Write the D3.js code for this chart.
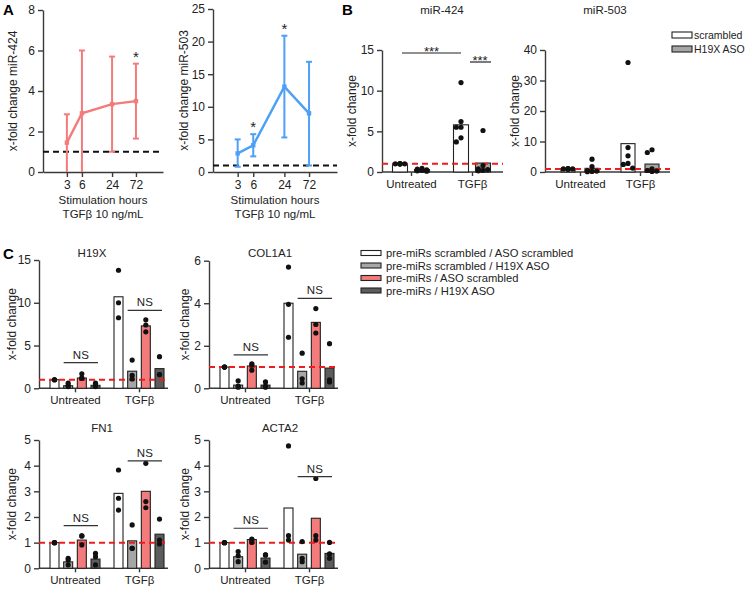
<!DOCTYPE html>
<html><head><meta charset="utf-8">
<script src="https://cdn.jsdelivr.net/npm/d3@7"></script>
<style>body{margin:0;background:#fff}svg{font-family:"Liberation Sans",Arial,sans-serif}</style>
</head><body><svg id="c" width="748" height="589"></svg>
<script>
// ---------- DATA ----------
const hours = [3, 6, 24, 72];
const miR424Mean = [1.45, 2.9, 3.35, 3.5];
const miR424Low  = [0, 0, 1.0, 1.65];
const miR424High = [2.85, 6.0, 5.7, 5.35];
const miR424Stars = [72];
const miR503Mean = [2.85, 4.1, 13.1, 9.0];
const miR503Low  = [0.8, 2.4, 5.3, 1.0];
const miR503High = [5.0, 5.8, 20.9, 16.9];
const miR503Stars = [6, 24];

const groups = ["Untreated", "TGFβ"];
const bSeries = ["scrambled", "H19X ASO"];
const b424Bars = [[1.0, 0.3], [5.8, 1.1]];
const b424Dots = [[[1, 1, 1, 1, 1, 1], [0.45, 0.35, 0.25, 0.2, 0.15, 0.1]],
                  [[11.0, 6.2, 5.5, 5.5, 4.2, 3.7], [5.1, 0.8, 0.4, 0.3, 0.2, 0.15]]];
const b503Bars = [[1.0, 1.2], [9.3, 2.6]];
const b503Dots = [[[1, 1, 1, 1, 1, 1], [4.2, 1.8, 0.5, 0.3, 0.2, 0.1]],
                  [[35.9, 8.0, 5.3, 2.8, 2.5, 1.3], [7.3, 6.4, 1.0, 0.5, 0.3, 0.2]]];

const cSeries = ["pre-miRs scrambled / ASO scrambled", "pre-miRs scrambled / H19X ASO",
                 "pre-miRs / ASO scrambled", "pre-miRs / H19X ASO"];
const h19xBars = [[1.0, 0.3, 1.2, 0.35], [10.7, 2.0, 7.3, 2.3]];
const h19xDots = [[[1, 1, 1], [0.6, 0.28, 0.2], [1.7, 1.18, 1.18], [0.6, 0.28, 0.2]],
                  [[13.8, 10.0, 8.25], [3.3, 1.5, 1.1], [8.0, 7.4, 6.6], [3.7, 1.6, 1.6]]];
const h19xNS = [3.0, 9.1];
const col1a1Bars = [[1.0, 0.15, 1.05, 0.15], [4.0, 0.8, 3.1, 0.95]];
const col1a1Dots = [[[1, 1, 1], [0.35, 0.1, 0.05], [1.15, 1.1, 0.85], [0.3, 0.1, 0.05]],
                    [[5.7, 3.95, 2.4], [1.65, 0.45, 0.25], [3.75, 3.0, 2.6], [2.1, 0.4, 0.3]]];
const col1a1NS = [1.57, 4.23];
const fn1Bars = [[1.0, 0.25, 1.1, 0.36], [2.92, 1.07, 3.0, 1.33]];
const fn1Dots = [[[1, 1, 1], [0.39, 0.32, 0.13], [1.26, 1.26, 0.91], [0.58, 0.45, 0.13]],
                 [[3.83, 2.73, 2.27], [1.69, 0.78, 0.78], [4.09, 2.6, 2.36], [1.92, 1.1, 0.95]]];
const fn1NS = [1.66, 4.19];
const acta2Bars = [[1.0, 0.45, 1.12, 0.4], [2.35, 0.55, 1.95, 0.58]];
const acta2Dots = [[[1, 1, 1], [0.65, 0.49, 0.26], [1.14, 1.1, 1.01], [0.52, 0.52, 0.24]],
                   [[4.77, 1.27, 1.1], [1.04, 0.39, 0.26], [3.5, 1.27, 1.1], [1.01, 0.56, 0.39]]];
const acta2NS = [1.56, 3.57];

const bColors = ["#ffffff", "#a6a6a6"];
const cColors = ["#ffffff", "#a6a6a6", "#f47b7b", "#5c5c5c"];

// ---------- DRAW ----------
const svg = d3.select("#c");
const AX = "#3a3a3a";
const FONT = "Liberation Sans, Arial, sans-serif";
const fmt = d3.format("d");

function styleAxis(g, fs) {
  g.attr("font-family", FONT).attr("font-size", fs);
  g.selectAll(".domain").attr("stroke", AX).attr("stroke-width", 1.4);
  g.selectAll(".tick line").attr("stroke", AX).attr("stroke-width", 1.4);
  g.selectAll("text").attr("fill", "#222");
}
function txt(x, y, s, o = {}) {
  return svg.append("text").attr("x", x).attr("y", y).text(s)
    .attr("font-size", o.fs || 11).attr("font-family", FONT)
    .attr("text-anchor", o.anchor || "middle").attr("fill", o.fill || "#222")
    .attr("font-weight", o.bold ? "bold" : null);
}
function vlabel(cx, cy, s, fs) {
  svg.append("text").attr("transform", `translate(${cx},${cy}) rotate(-90)`)
    .attr("text-anchor", "middle").attr("dy", "0.35em").attr("font-size", fs)
    .attr("font-family", FONT).attr("fill", "#222").text(s);
}

function drawTime(c) {
  const x = d3.scaleLog().domain([1, 250]).range([c.x0, c.x1]);
  const y = d3.scaleLinear().domain([0, c.yMax]).range([c.yB, c.yT]);
  styleAxis(svg.append("g").attr("transform", `translate(${c.x0},0)`)
    .call(d3.axisLeft(y).tickValues(c.yTicks).tickFormat(fmt).tickSize(5).tickPadding(3).tickSizeOuter(0)), 12);
  styleAxis(svg.append("g").attr("transform", `translate(0,${c.yB})`)
    .call(d3.axisBottom(x).tickValues(hours).tickFormat(fmt).tickSize(5).tickPadding(3).tickSizeOuter(0)), 12);
  svg.append("line").attr("x1", c.x0).attr("x2", c.x1).attr("y1", y(1)).attr("y2", y(1))
    .attr("stroke", "#111").attr("stroke-width", 2).attr("stroke-dasharray", "6,4");
  const g = svg.append("g").attr("stroke", c.color).attr("stroke-width", 2);
  hours.forEach((h, i) => {
    g.append("line").attr("x1", x(h)).attr("x2", x(h)).attr("y1", y(c.low[i])).attr("y2", y(c.high[i]));
    [c.low[i], c.high[i]].forEach(v => {
      if (v > 0) g.append("line").attr("x1", x(h) - 3).attr("x2", x(h) + 3).attr("y1", y(v)).attr("y2", y(v));
    });
  });
  svg.append("path").datum(hours.map((h, i) => [h, c.mean[i]]))
    .attr("d", d3.line().x(d => x(d[0])).y(d => y(d[1])))
    .attr("fill", "none").attr("stroke", c.color).attr("stroke-width", 2.4);
  svg.selectAll(null).data(hours.map((h, i) => [h, c.mean[i]])).enter().append("rect")
    .attr("x", d => x(d[0]) - 2.2).attr("y", d => y(d[1]) - 2.2).attr("width", 4.4).attr("height", 4.4)
    .attr("fill", c.color);
  c.stars.forEach(h => {
    const i = hours.indexOf(h);
    txt(x(h), y(c.high[i]) - 2, "*", { fs: 15 });
  });
  const cx = (c.x0 + c.x1) / 2;
  txt(cx, 204, "Stimulation hours", { fs: 11.5 });
  txt(cx, 218, "TGFβ 10 ng/mL", { fs: 11.5 });
  vlabel(c.ylx, (c.yB + c.yT) / 2, c.ylabel, 12);
}

drawTime({ x0: 43, x1: 163, yB: 172, yT: 10, yMax: 8, yTicks: [0, 2, 4, 6, 8],
  mean: miR424Mean, low: miR424Low, high: miR424High, color: "#f47b7b", stars: miR424Stars,
  ylabel: "x-fold change miR-424", ylx: 13 });
drawTime({ x0: 213, x1: 337, yB: 172, yT: 9, yMax: 25, yTicks: [0, 5, 10, 15, 20, 25],
  mean: miR503Mean, low: miR503Low, high: miR503High, color: "#4da0f5", stars: miR503Stars,
  ylabel: "x-fold change miR-503", ylx: 184 });

function swarm(vals, y, r, maxOff) {
  const step = 2 * r * 0.9;
  const cands = [0];
  for (let k = 1; k * step <= maxOff + 0.01; k++) cands.push(-k * step, k * step);
  const order = vals.map((v, i) => i).sort((a, b) => vals[b] - vals[a]);
  const placed = [], res = [];
  order.forEach(i => {
    const yy = y(vals[i]);
    let best = null, bestD = -1;
    for (const o of cands) {
      let md = Infinity;
      placed.forEach(p => { md = Math.min(md, Math.hypot(p[0] - o, p[1] - yy)); });
      if (md >= step) { best = o; bestD = md; break; }
      if (md > bestD) { bestD = md; best = o; }
    }
    placed.push([best, yy]);
    res.push([best, yy]);
  });
  return res;
}

function drawBars(c) {
  const y = d3.scaleLinear().domain([0, c.yMax]).range([c.yB, c.yT]);
  const gx = d3.scalePoint().domain(groups).range(c.centers);
  const inner = d3.scalePoint().domain(c.series).range(c.inner);
  styleAxis(svg.append("g").attr("transform", `translate(${c.x0},0)`)
    .call(d3.axisLeft(y).tickValues(c.yTicks).tickFormat(fmt).tickSize(5).tickPadding(3).tickSizeOuter(0)), 12);
  svg.append("line").attr("x1", c.x0).attr("x2", c.x1).attr("y1", c.yB).attr("y2", c.yB)
    .attr("stroke", AX).attr("stroke-width", 1.4);
  const ax = svg.append("g").attr("transform", `translate(0,${c.yB})`)
    .call(d3.axisBottom(gx).tickSize(4).tickPadding(4));
  ax.select(".domain").remove();
  styleAxis(ax, 11.5);
  groups.forEach((gname, gi) => {
    c.series.forEach((s, si) => {
      const cx = gx(gname) + inner(s);
      const v = c.bars[gi][si];
      svg.append("rect").attr("x", cx - c.bw / 2).attr("width", c.bw)
        .attr("y", y(v)).attr("height", c.yB - y(v))
        .attr("fill", c.colors[si]).attr("stroke", "#222").attr("stroke-width", 1.1);
    });
  });
  svg.append("line").attr("x1", c.x0).attr("x2", c.x1).attr("y1", y(1)).attr("y2", y(1))
    .attr("stroke", "#ee1c1c").attr("stroke-width", 2).attr("stroke-dasharray", "6,4");
  groups.forEach((gname, gi) => {
    c.series.forEach((s, si) => {
      const cx = gx(gname) + inner(s);
      swarm(c.dots[gi][si], y, 2.6, c.bw / 2).forEach(p => {
        svg.append("circle").attr("cx", cx + p[0]).attr("cy", p[1]).attr("r", 2.6).attr("fill", "#111");
      });
    });
  });
  if (c.title) txt(c.title[0], c.title[1], c.title[2], { fs: 11.5 });
  vlabel(c.ylx, (c.yB + c.yT) / 2, "x-fold change", 12);
  if (c.ns) {
    groups.forEach((gname, gi) => {
      const xa = gx(gname) + inner(c.series[1]) - c.bw / 2;
      const xb = gx(gname) + inner(c.series[3]) + c.bw / 2 - 2;
      const yy = y(c.ns[gi]);
      svg.append("line").attr("x1", xa).attr("x2", xb).attr("y1", yy).attr("y2", yy)
        .attr("stroke", "#333").attr("stroke-width", 1.2);
      txt((xa + xb) / 2, yy - 4, "NS", { fs: 11.5 });
    });
  }
  return { y, gx, inner };
}

// Panel B
const b1 = drawBars({ x0: 382, x1: 503, yB: 172, yT: 50, yMax: 15, yTicks: [0, 5, 10, 15],
  centers: [411, 472], inner: [-11, 11], bw: 15, series: bSeries, bars: b424Bars, dots: b424Dots,
  colors: bColors, title: [442, 14, "miR-424"], ylx: 352 });
// significance
(function () {
  const xs = b1.gx(groups[0]) + b1.inner(bSeries[0]), xt = b1.gx(groups[1]) + b1.inner(bSeries[0]);
  const xh = b1.gx(groups[1]) + b1.inner(bSeries[1]);
  svg.append("line").attr("x1", xs + 2).attr("x2", xt).attr("y1", 53).attr("y2", 53).attr("stroke", "#222").attr("stroke-width", 1.2);
  txt((xs + xt) / 2 + 1, 56, "***", { fs: 13 });
  svg.append("line").attr("x1", xt + 9).attr("x2", xh + 8).attr("y1", 62).attr("y2", 62).attr("stroke", "#222").attr("stroke-width", 1.2);
  txt((xt + xh) / 2 + 8, 65, "***", { fs: 13 });
})();
drawBars({ x0: 545, x1: 670, yB: 172, yT: 50, yMax: 40, yTicks: [0, 10, 20, 30, 40],
  centers: [580, 640], inner: [-12, 12], bw: 14, series: bSeries, bars: b503Bars, dots: b503Dots,
  colors: bColors, title: [605, 14, "miR-503"], ylx: 515 });
// B legend
bSeries.forEach((s, i) => {
  svg.append("rect").attr("x", 672).attr("y", 32 + i * 14).attr("width", 20).attr("height", 6)
    .attr("fill", bColors[i]).attr("stroke", "#222").attr("stroke-width", 1.1);
  txt(694, 39 + i * 14, s, { fs: 10.5, anchor: "start" });
});

// Panel C
drawBars({ x0: 39, x1: 168, yB: 388.3, yT: 260, yMax: 15, yTicks: [0, 5, 10, 15],
  centers: [75, 139], inner: [-20.5, 20.5], bw: 9, series: cSeries, bars: h19xBars, dots: h19xDots,
  colors: cColors, title: [92, 257, "H19X"], ylx: 12, ns: h19xNS });
drawBars({ x0: 209, x1: 338, yB: 388.3, yT: 260.7, yMax: 6, yTicks: [0, 2, 4, 6],
  centers: [245, 309], inner: [-20.5, 20.5], bw: 9, series: cSeries, bars: col1a1Bars, dots: col1a1Dots,
  colors: cColors, title: [270, 257, "COL1A1"], ylx: 185, ns: col1a1NS });
drawBars({ x0: 39, x1: 168, yB: 568.3, yT: 440, yMax: 5, yTicks: [0, 1, 2, 3, 4, 5],
  centers: [75, 139], inner: [-20.5, 20.5], bw: 9, series: cSeries, bars: fn1Bars, dots: fn1Dots,
  colors: cColors, title: [102, 432, "FN1"], ylx: 12, ns: fn1NS });
drawBars({ x0: 209, x1: 338, yB: 568.3, yT: 440, yMax: 5, yTicks: [0, 1, 2, 3, 4, 5],
  centers: [245, 309], inner: [-20.5, 20.5], bw: 9, series: cSeries, bars: acta2Bars, dots: acta2Dots,
  colors: cColors, title: [280, 432, "ACTA2"], ylx: 185, ns: acta2NS });
// C legend
cSeries.forEach((s, i) => {
  svg.append("rect").attr("x", 361).attr("y", 250.5 + i * 12.5).attr("width", 20).attr("height", 5)
    .attr("fill", cColors[i]).attr("stroke", "#222").attr("stroke-width", 1.1);
  txt(386, 257 + i * 12.5, s, { fs: 11.2, anchor: "start" });
});

// panel letters
txt(3, 15, "A", { fs: 15, bold: true, anchor: "start", fill: "#000" });
txt(342, 15, "B", { fs: 15, bold: true, anchor: "start", fill: "#000" });
txt(3, 259, "C", { fs: 15, bold: true, anchor: "start", fill: "#000" });
</script></body></html>
